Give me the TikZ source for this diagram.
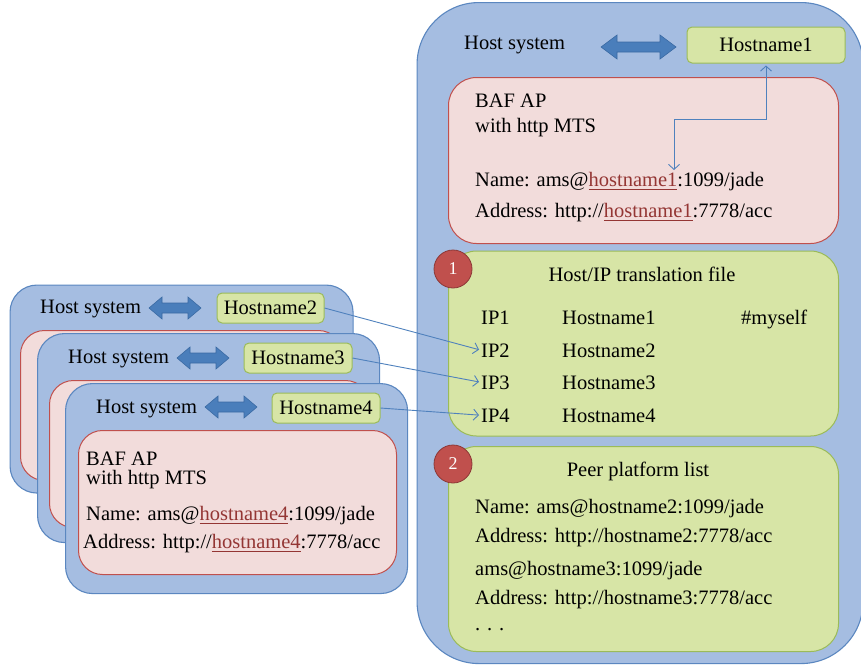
\documentclass[tikz,border=0pt]{standalone}
\usepackage{fontspec}
\setmainfont{Liberation Serif}
\usetikzlibrary{arrows.meta}

\definecolor{hostFill}{HTML}{A5BDE1}
\definecolor{hostEdge}{HTML}{5B87C0}
\definecolor{apFill}{HTML}{F2DCDB}
\definecolor{apEdge}{HTML}{C0504D}
\definecolor{listFill}{HTML}{D7E5A6}
\definecolor{listEdge}{HTML}{9BBB59}
\definecolor{bidiFill}{HTML}{4A7EBB}
\definecolor{bidiEdge}{HTML}{3A6AA3}
\definecolor{wire}{HTML}{4F81BD}
\definecolor{badgeRed}{HTML}{C0504D}
\definecolor{badgeEdge}{HTML}{8C3836}
\definecolor{linkred}{HTML}{943634}

\newcommand\bodyfont{\fontsize{20.5}{24}\selectfont}
% underlined host name in dark red
\newcommand\hlink[1]{\textcolor{linkred}{\setbox0\hbox{#1}\rlap{\rule[-4pt]{\wd0}{1.1pt}}\box0}}
% block double arrow: left x, right x, centre y, head length, head half-height
\newcommand\bidiarrow[5]{%
  \filldraw[bidi] (#1,#3) -- (#1+#4,#3-#5) -- (#1+#4,#3-5) -- (#2-#4,#3-5)
    -- (#2-#4,#3-#5) -- (#2,#3) -- (#2-#4,#3+#5) -- (#2-#4,#3+5)
    -- (#1+#4,#3+5) -- (#1+#4,#3+#5) -- cycle;}

\tikzset{
  hostbox/.style={draw=hostEdge, fill=hostFill, line width=1.1pt, anchor=north west, inner sep=0},
  apbox/.style={draw=apEdge, fill=apFill, line width=1pt, anchor=north west, inner sep=0},
  listbox/.style={draw=listEdge, fill=listFill, line width=1pt, anchor=north west, inner sep=0},
  namebox/.style={draw=listEdge, fill=listFill, line width=1pt, rounded corners=5pt,
    inner sep=0, font=\bodyfont},
  txt/.style={inner sep=0, anchor=base west, font=\bodyfont},
  ctxt/.style={inner sep=0, anchor=base, font=\bodyfont},
  bidi/.style={fill=bidiFill, draw=bidiEdge, line width=0.6pt},
  wirearrow/.style={draw=wire, line width=0.9pt, -{Straight Barb[length=5pt,width=11pt]}},
  badge/.style={circle, fill=badgeRed, draw=badgeEdge, line width=0.8pt, minimum size=38pt,
    inner sep=0, text=white, font=\fontsize{18}{20}\selectfont},
}

\begin{document}
\begin{tikzpicture}[x=1pt,y=-1pt]
\useasboundingbox (0,0) rectangle (861,665);

% ---------------- local host system ----------------
\node[hostbox, rounded corners=62pt, minimum width=446pt, minimum height=661pt] (hostR) at (416.5,2) {};
\node[txt] (hsR) at (464,49) {Host system};
\bidiarrow{601}{676}{47}{16}{12}
\node[namebox, minimum width=158pt, minimum height=36pt] (hn1) at (766,45) {Hostname1};

\node[apbox, rounded corners=28pt, minimum width=390pt, minimum height=166pt] (apR) at (448,77) {};
\node[txt] (apR1) at (475,107) {BAF AP};
\node[txt] (apR2) at (475,132) {with http MTS};
\node[txt] (apR3) at (475,186) {Name: ams@\hlink{hostname1}:1099/jade};
\node[txt] (apR4) at (475,217) {Address: http://\hlink{hostname1}:7778/acc};
\coordinate (nameTip) at (674,170);
\draw[draw=wire, line width=0.9pt, {Straight Barb[length=5pt,width=11pt]}-{Straight Barb[length=5pt,width=11pt]}]
  (nameTip) -- ++(0,-51) -| ([yshift=-2pt]hn1.south);

% translation file
\node[listbox, rounded corners=28pt, minimum width=390pt, minimum height=185pt] (tf) at (448,250.5) {};
\node[badge] (b1) at (453,269) {1};
\node[ctxt] (tfT) at (642,281) {Host/IP translation file};
\node[txt] (ip1) at (481,324) {IP1};
\node[txt] (ip2) at (481,357) {IP2};
\node[txt] (ip3) at (481,389) {IP3};
\node[txt] (ip4) at (481,422) {IP4};
\node[txt] (hm1) at (562,324) {Hostname1};
\node[txt] (hm2) at (562,357) {Hostname2};
\node[txt] (hm3) at (562,389) {Hostname3};
\node[txt] (hm4) at (562,422) {Hostname4};
\node[txt] (self) at (741,324) {\#myself};

% peer platform list
\node[listbox, rounded corners=28pt, minimum width=390pt, minimum height=205pt] (pp) at (448,446) {};
\node[badge] (b2) at (453,464) {2};
\node[ctxt] (ppT) at (638,476) {Peer platform list};
\node[txt] (pp1) at (475,513) {Name: ams@hostname2:1099/jade};
\node[txt] (pp2) at (475,542) {Address: http://hostname2:7778/acc};
\node[txt] (pp3) at (475,575) {ams@hostname3:1099/jade};
\node[txt] (pp4) at (475,604) {Address: http://hostname3:7778/acc};
\node[txt] (pp5) at (475,630) {.\,\,.\,\,.};

% ---------------- remote host systems ----------------
% host 2
\node[hostbox, rounded corners=27pt, minimum width=343pt, minimum height=208pt] (hostA) at (9.5,284.5) {};
\node[apbox, rounded corners=24pt, minimum width=322pt, minimum height=150pt] (apA) at (20,330) {};
\node[txt] (hsA) at (40,313) {Host system};
\bidiarrow{149}{201}{308}{13}{11}
\node[namebox, minimum width=107pt, minimum height=30pt] (hn2) at (270.5,308) {Hostname2};

% host 3
\node[hostbox, rounded corners=27pt, minimum width=342pt, minimum height=209pt] (hostB) at (37,333) {};
\node[apbox, rounded corners=24pt, minimum width=320pt, minimum height=147pt] (apB) at (49,380) {};
\node[txt] (hsB) at (68,363) {Host system};
\bidiarrow{177}{229}{358}{13}{11}
\node[namebox, minimum width=108pt, minimum height=30pt] (hn3) at (298,358) {Hostname3};

% host 4
\node[hostbox, rounded corners=27pt, minimum width=342pt, minimum height=210pt] (hostC) at (65,383) {};
\node[apbox, rounded corners=24pt, minimum width=318pt, minimum height=144pt] (apC) at (78,430) {};
\node[txt] (hsC) at (96,413) {Host system};
\bidiarrow{205}{257}{407}{13}{11}
\node[namebox, minimum width=108pt, minimum height=30pt] (hn4) at (326,408) {Hostname4};
\node[txt] (apC1) at (86,465) {BAF AP};
\node[txt] (apC2) at (86,484) {with http MTS};
\node[txt] (apC3) at (86,520) {Name: ams@\hlink{hostname4}:1099/jade};
\node[txt] (apC4) at (83,548) {Address: http://\hlink{hostname4}:7778/acc};

% host name entries in the translation file
\draw[wirearrow, shorten >=2pt] (hn2.east) -- (ip2.west);
\draw[wirearrow, shorten >=2pt] (hn3.east) -- (ip3.west);
\draw[wirearrow, shorten >=2pt] (hn4.east) -- (ip4.west);
\end{tikzpicture}
\end{document}
